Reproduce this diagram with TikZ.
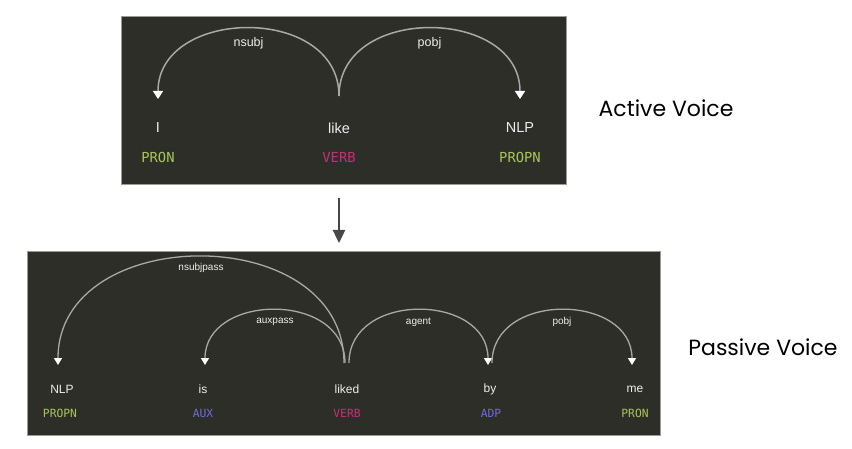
\documentclass[tikz,border=0pt]{standalone}
\usepackage{fontspec}
\setmainfont{Liberation Sans}
\newfontfamily\tagfont{DejaVu Sans Mono}
\newfontfamily\titlefont{Poppins}
\usepackage{xcolor}
\usetikzlibrary{arrows.meta,positioning,calc}

\definecolor{panelbg}{HTML}{2E2E29}
\definecolor{panelrim}{HTML}{9A9A96}
\definecolor{arcline}{HTML}{A8A8A6}
\definecolor{wordfg}{HTML}{EDEDED}
\definecolor{tagnoun}{HTML}{A6C65A}
\definecolor{tagverb}{HTML}{C2307A}
\definecolor{tagfunc}{HTML}{6D6DDB}
\definecolor{flowgray}{HTML}{474747}

\begin{document}
\begin{tikzpicture}[
  x=1pt, y=-1pt,
  panel/.style={fill=panelbg, draw=panelrim, line width=0.8pt},
  word/.style={text=wordfg, inner sep=0pt},
  postag/.style={inner sep=0pt, font=\tagfont},
  lbl/.style={text=wordfg, inner sep=0pt, midway},
  deptop/.style={draw=arcline, line width=1.5pt, -{Triangle[width=10pt,length=8pt,fill=white,color=white]}},
  depbot/.style={draw=arcline, line width=1.3pt, -{Triangle[width=8pt,length=7pt,fill=white,color=white]}},
  flow/.style={draw=flowgray, line width=2.4pt, -{Triangle[width=12pt,length=13pt]}},
  voice/.style={font=\titlefont\fontsize{22}{26}\selectfont, inner sep=0pt}
]
  \useasboundingbox (0,0) rectangle (852,449);

  % active voice parse
  \draw[panel] (121,16) rectangle (566,184);
  \node[word, font=\fontsize{14.5}{17}\selectfont] (a-i) at (158,128) {I};
  \node[word, font=\fontsize{14.5}{17}\selectfont] (a-like) at (339,128) {like};
  \node[word, font=\fontsize{14.5}{17}\selectfont] (a-nlp) at (520,128) {NLP};
  \node[postag, text=tagnoun, font=\tagfont\fontsize{13.8}{16}\selectfont] (a-pron) at (158,157) {PRON};
  \node[postag, text=tagverb, font=\tagfont\fontsize{13.8}{16}\selectfont] (a-verb) at (339,157) {VERB};
  \node[postag, text=tagnoun, font=\tagfont\fontsize{13.8}{16}\selectfont] (a-propn) at (520,157) {PROPN};

  \draw[deptop] ($(a-like)+(0,-32)$) .. controls +(0,-92) and +(0,-92) .. ($(a-i)+(0,-29)$)
    node[lbl, yshift=-15pt, font=\fontsize{12.5}{15}\selectfont] {nsubj};
  \draw[deptop] ($(a-like)+(0,-32)$) .. controls +(0,-92) and +(0,-92) .. ($(a-nlp)+(0,-29)$)
    node[lbl, yshift=-15pt, font=\fontsize{12.5}{15}\selectfont] {pobj};

  \node[voice] (active) at (666,108) {Active Voice};

  % transformation arrow
  \coordinate (flow-top) at (339,198);
  \coordinate (flow-bot) at (339,243);
  \draw[flow] (flow-top) -- (flow-bot);

  % passive voice parse
  \draw[panel] (27,251) rectangle (660,435);
  \node[word, font=\fontsize{12}{14}\selectfont] (p-nlp) at (62,389) {NLP};
  \node[word, font=\fontsize{12}{14}\selectfont] (p-is) at (203,389) {is};
  \node[word, font=\fontsize{12}{14}\selectfont] (p-liked) at (347,389) {liked};
  \node[word, font=\fontsize{12}{14}\selectfont] (p-by) at (490,389) {by};
  \node[word, font=\fontsize{12}{14}\selectfont] (p-me) at (635,389) {me};
  \node[postag, text=tagnoun, font=\tagfont\fontsize{11.3}{13}\selectfont] (p-propn) at (60,413) {PROPN};
  \node[postag, text=tagfunc, font=\tagfont\fontsize{11.3}{13}\selectfont] (p-aux) at (203,413) {AUX};
  \node[postag, text=tagverb, font=\tagfont\fontsize{11.3}{13}\selectfont] (p-verb) at (347,413) {VERB};
  \node[postag, text=tagfunc, font=\tagfont\fontsize{11.3}{13}\selectfont] (p-adp) at (491,413) {ADP};
  \node[postag, text=tagnoun, font=\tagfont\fontsize{11.3}{13}\selectfont] (p-pron) at (635,413) {PRON};

  \draw[depbot] ($(p-liked)+(-3,-26)$) .. controls +(0,-143) and +(0,-143) .. ($(p-nlp)+(-4,-24)$)
    node[lbl, yshift=-11pt, font=\fontsize{10}{12}\selectfont] {nsubjpass};
  \draw[depbot] ($(p-liked)+(-2,-26)$) .. controls +(0,-72) and +(0,-72) .. ($(p-is)+(2,-24)$)
    node[lbl, yshift=-12pt, font=\fontsize{10}{12}\selectfont] {auxpass};
  \draw[depbot] ($(p-liked)+(2,-26)$) .. controls +(0,-72) and +(0,-72) .. ($(p-by)+(-2,-24)$)
    node[lbl, yshift=-12pt, font=\fontsize{10}{12}\selectfont] {agent};
  \draw[depbot] ($(p-by)+(2,-26)$) .. controls +(0,-72) and +(0,-72) .. ($(p-me)+(-3,-24)$)
    node[lbl, yshift=-12pt, font=\fontsize{10}{12}\selectfont] {pobj};

  \node[voice] (passive) at (763,347) {Passive Voice};
\end{tikzpicture}
\end{document}
